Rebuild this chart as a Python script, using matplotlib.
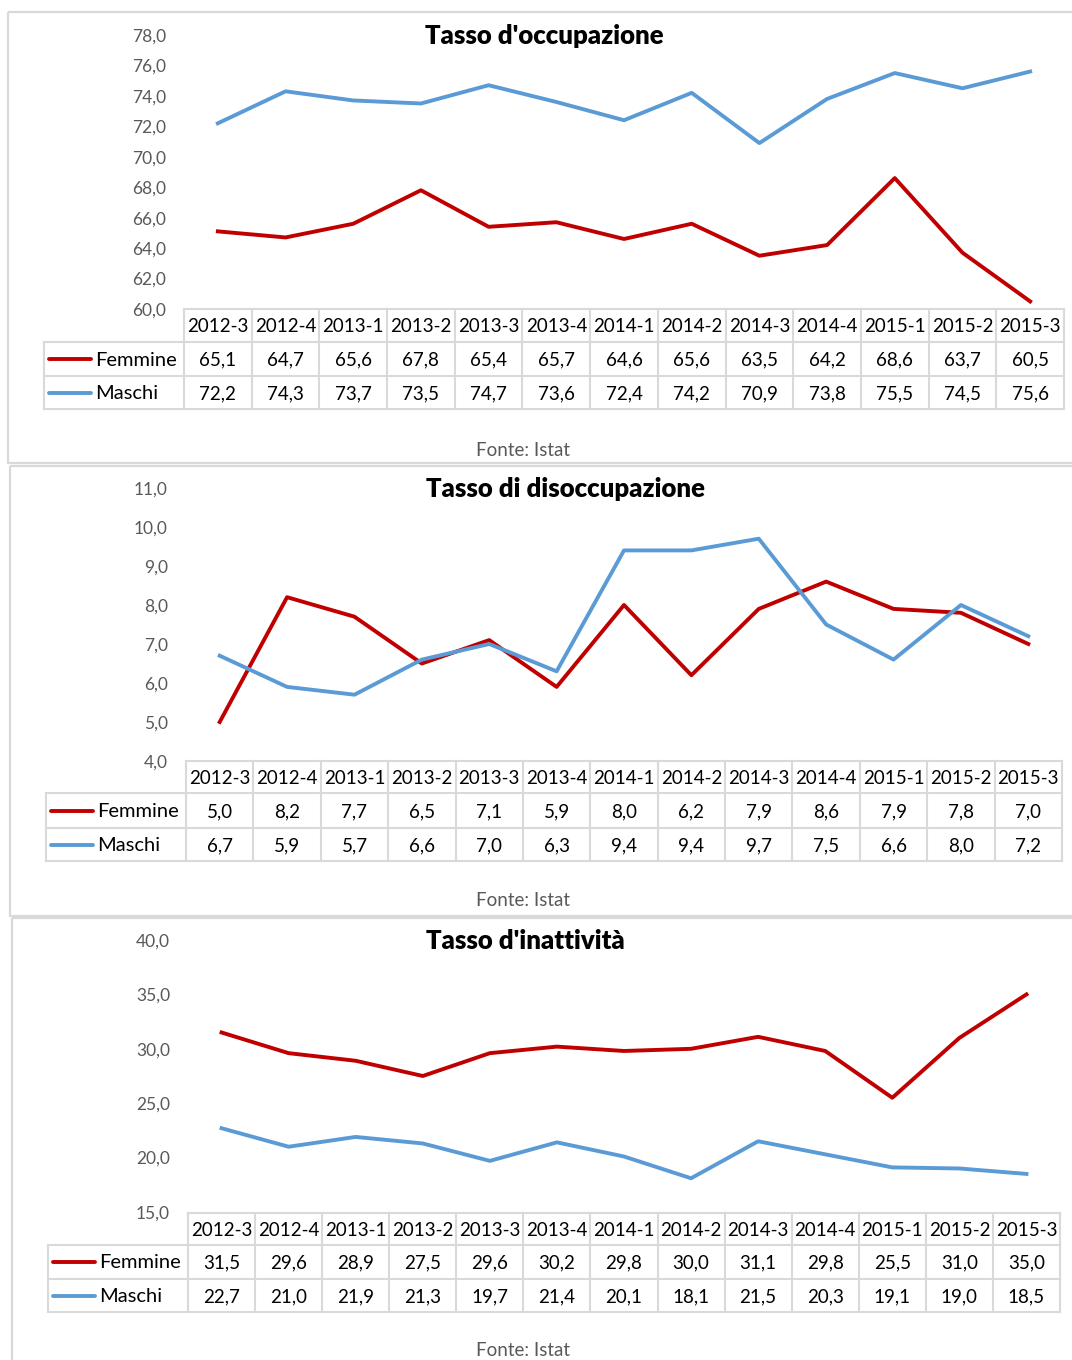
import numpy as np
import matplotlib
matplotlib.use('Agg')
import matplotlib.pyplot as plt
from matplotlib.transforms import blended_transform_factory

plt.rcParams['font.family'] = ['Lato', 'DejaVu Sans']

# dati Istat, trimestri
periodi = ['2012-3', '2012-4', '2013-1', '2013-2', '2013-3', '2013-4', '2014-1',
           '2014-2', '2014-3', '2014-4', '2015-1', '2015-2', '2015-3']
occ_femmine = [65.1, 64.7, 65.6, 67.8, 65.4, 65.7, 64.6, 65.6, 63.5, 64.2, 68.6, 63.7, 60.5]
occ_maschi = [72.2, 74.3, 73.7, 73.5, 74.7, 73.6, 72.4, 74.2, 70.9, 73.8, 75.5, 74.5, 75.6]
dis_femmine = [5.0, 8.2, 7.7, 6.5, 7.1, 5.9, 8.0, 6.2, 7.9, 8.6, 7.9, 7.8, 7.0]
dis_maschi = [6.7, 5.9, 5.7, 6.6, 7.0, 6.3, 9.4, 9.4, 9.7, 7.5, 6.6, 8.0, 7.2]
ina_femmine = [31.5, 29.6, 28.9, 27.5, 29.6, 30.2, 29.8, 30.0, 31.1, 29.8, 25.5, 31.0, 35.0]
ina_maschi = [22.7, 21.0, 21.9, 21.3, 19.7, 21.4, 20.1, 18.1, 21.5, 20.3, 19.1, 19.0, 18.5]

RED = '#C00000'
BLUE = '#5B9BD5'
GRID = '#D9D9D9'
GREY = '#595959'
W, H = 1072, 1360

# geometria dei tre pannelli (pixel, origine in alto a sinistra)
pannelli = [
    dict(titolo="Tasso d'occupazione", fem=occ_femmine, mas=occ_maschi,
         ymin=60, ymax=78, step=2, box=(8, 12, 1090, 463), leg_x=44, x0=184, x1=1064,
         top=35, bottom=309, rows=(309, 342, 376, 409), fonte=450, tit_x=425),
    dict(titolo="Tasso di disoccupazione", fem=dis_femmine, mas=dis_maschi,
         ymin=4, ymax=11, step=1, box=(10, 466, 1090, 916), leg_x=46, x0=186, x1=1062,
         top=488, bottom=761, rows=(761, 793, 828, 861), fonte=901, tit_x=426),
    dict(titolo="Tasso d'inattività", fem=ina_femmine, mas=ina_maschi,
         ymin=15, ymax=40, step=5, box=(12, 918, 1090, 1380), leg_x=48, x0=188, x1=1060,
         top=940, bottom=1212, rows=(1213, 1245, 1279, 1312), fonte=1351, tit_x=426),
]


def fig_rect(x0, y0, x1, y1):
    return [x0 / W, 1 - y1 / H, (x1 - x0) / W, (y1 - y0) / H]


fig = plt.figure(figsize=(W / 100, H / 100), dpi=100)
bg = fig.add_axes([0, 0, 1, 1])
bg.set_xlim(0, W)
bg.set_ylim(H, 0)
bg.axis('off')

for p in pannelli:
    bx0, by0, bx1, by1 = p['box']
    bg.add_patch(plt.Rectangle((bx0, by0), bx1 - bx0, by1 - by0, fill=False,
                               edgecolor=GRID, lw=1.6, zorder=1))

    ax = fig.add_axes(fig_rect(p['x0'], p['top'], p['x1'], p['bottom']))
    ax.patch.set_visible(False)
    x = np.arange(len(periodi))
    ax.plot(x, p['fem'], color=RED, lw=2.8, solid_joinstyle='round', clip_on=False)
    ax.plot(x, p['mas'], color=BLUE, lw=2.8, solid_joinstyle='round', clip_on=False)
    ax.set_xlim(-0.5, len(periodi) - 0.5)
    ax.set_ylim(p['ymin'], p['ymax'])
    yt = np.arange(p['ymin'], p['ymax'] + 0.01, p['step'])
    ax.set_yticks(yt)
    ax.set_yticklabels([f'{v:.1f}'.replace('.', ',') for v in yt], color=GREY, fontsize=12.5)
    ax.tick_params(axis='y', length=0, pad=13)
    ax.set_xticks([])
    for s in ax.spines.values():
        s.set_visible(False)

    bg.text(p['tit_x'], p['top'] + 1, p['titolo'], fontsize=18.5, fontweight='heavy',
            ha='left', va='center', color='black')
    bg.text(523, p['fonte'], 'Fonte: Istat', fontsize=13.5, color=GREY,
            ha='center', va='center')

    # tabella dati
    tr = blended_transform_factory(ax.transData, bg.transData)
    r0, r1, r2, r3 = p['rows']
    n = len(periodi)
    bg.plot([p['x0'], p['x1']], [r0, r0], color=GRID, lw=1.5)
    for yy in (r1, r2, r3):
        bg.plot([p['leg_x'], p['x1']], [yy, yy], color=GRID, lw=1.5)
    bg.plot([p['leg_x'], p['leg_x']], [r1, r3], color=GRID, lw=1.5)
    for i in range(n + 1):
        ax.plot([i - 0.5, i - 0.5], [r0, r3], color=GRID, lw=1.5, transform=tr,
                clip_on=False)
    for i, lab in enumerate(periodi):
        ax.text(i, (r0 + r1) / 2 + 1, lab, transform=tr, ha='center', va='center',
                fontsize=13.5, color='black')
        ax.text(i, (r1 + r2) / 2 + 1, f'{p["fem"][i]:.1f}'.replace('.', ','),
                transform=tr, ha='center', va='center', fontsize=13.5, color='black')
        ax.text(i, (r2 + r3) / 2 + 1, f'{p["mas"][i]:.1f}'.replace('.', ','),
                transform=tr, ha='center', va='center', fontsize=13.5, color='black')
    for (ya, yb), nome, col in (((r1, r2), 'Femmine', RED), ((r2, r3), 'Maschi', BLUE)):
        ym = (ya + yb) / 2
        bg.plot([p['leg_x'] + 5, p['leg_x'] + 47], [ym, ym], color=col, lw=2.8,
                solid_capstyle='round')
        bg.text(p['leg_x'] + 51, ym + 1, nome, fontsize=14.5, ha='left', va='center',
                color='black')

fig.savefig('out.png', dpi=100)
